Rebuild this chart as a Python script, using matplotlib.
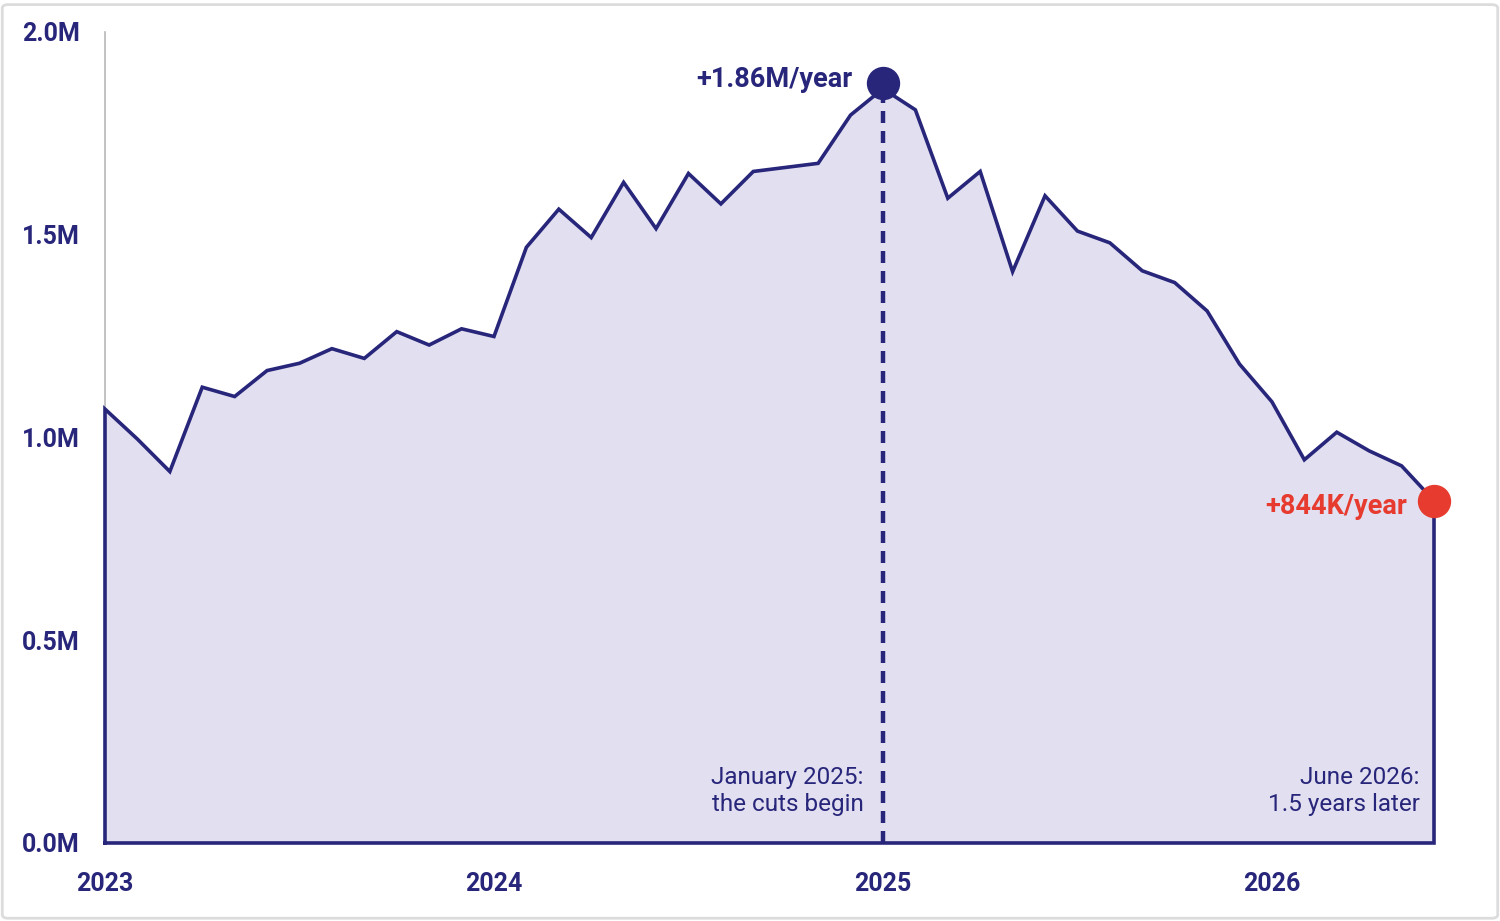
import matplotlib
matplotlib.use("Agg")
import matplotlib.pyplot as plt
from matplotlib.patches import FancyBboxPatch
import numpy as np

NAVY = "#28267a"
FILL = "#e1dff0"
RED = "#e63b2e"

# monthly values, Jan 2023 .. Jun 2026 (millions per year)
start_year = 2023
values = [1.070, 0.996, 0.916, 1.124, 1.101, 1.165, 1.183, 1.219, 1.195, 1.261, 1.228, 1.268,
          1.249, 1.469, 1.563, 1.493, 1.629, 1.515, 1.651, 1.576, 1.656, 1.666, 1.676, 1.795,
          1.860, 1.808, 1.590, 1.656, 1.409, 1.596, 1.509, 1.480, 1.411, 1.382, 1.312, 1.181,
          1.088, 0.945, 1.013, 0.967, 0.930, 0.844]
year_ticks = [2023, 2024, 2025, 2026]
y_ticks = [0.0, 0.5, 1.0, 1.5, 2.0]
y_labels = ["0.0M", "0.5M", "1.0M", "1.5M", "2.0M"]

peak_label = "+1.86M/year"
end_label = "+844K/year"
peak_note = "January 2025:\nthe cuts begin"
end_note = "June 2026:\n1.5 years later"

x = start_year + np.arange(len(values)) / 12
y = np.array(values)
i_peak = int(np.argmax(y))

fig = plt.figure(figsize=(15, 9.21), dpi=100)
ax = fig.add_axes([0.07, 0.0847, 0.886, 0.8806])

# area + closed outline
ax.fill_between(x, 0, y, color=FILL, lw=0, zorder=1)
ox = np.concatenate([[x[0]], x, [x[-1]], [x[0]]])
oy = np.concatenate([[0], y, [0], [0]])
ax.plot(ox, oy, color=NAVY, lw=2.6, solid_joinstyle="miter", zorder=3, clip_on=False)

# cut start marker
ax.plot([x[i_peak], x[i_peak]], [0, y[i_peak]], color=NAVY, lw=3.2,
        linestyle=(0, (2.7, 1.8)), zorder=2)
ax.plot(x[i_peak], y[i_peak] + 0.015, "o", color=NAVY, ms=23, zorder=5, clip_on=False)
ax.plot(x[-1], y[-1], "o", color=RED, ms=23, zorder=5, clip_on=False)

ax.annotate(peak_label, (x[i_peak], y[i_peak]), xytext=(-31, 9), textcoords="offset pixels",
            ha="right", va="center", color=NAVY, fontsize=19.5, fontweight="bold", family="Roboto")
ax.annotate(end_label, (x[-1], y[-1]), xytext=(-27, -6), textcoords="offset pixels",
            ha="right", va="center", color=RED, fontsize=19.5, fontweight="bold", family="Roboto")
ax.annotate(peak_note, (x[i_peak], 0.128), xytext=(-19, 0), textcoords="offset pixels",
            ha="right", va="center", color=NAVY, fontsize=17.5, family="Roboto", linespacing=1.2)
ax.annotate(end_note, (x[-1], 0.128), xytext=(-14, 0), textcoords="offset pixels",
            ha="right", va="center", color=NAVY, fontsize=17.5, family="Roboto", linespacing=1.2)

ax.set_xlim(x[0], x[-1])
ax.set_ylim(0, 2.0)
tick_font = dict(family="Roboto", fontweight="bold", fontsize=18, color=NAVY)
ax.set_xticks(year_ticks)
ax.set_xticklabels([str(t) for t in year_ticks], **tick_font)
ax.set_yticks(y_ticks)
ax.set_yticklabels(y_labels, **tick_font)
ax.tick_params(length=0)
ax.tick_params(axis="x", pad=21)
ax.tick_params(axis="y", pad=18)

for s in ["top", "right", "bottom"]:
    ax.spines[s].set_visible(False)
ax.spines["left"].set_color("#b8b8b8")
ax.spines["left"].set_linewidth(1.2)

# light frame around the whole picture
fig.patches.append(FancyBboxPatch((0.0015, 0.003), 0.997, 0.992,
                                  boxstyle="round,pad=0,rounding_size=0.004",
                                  transform=fig.transFigure, fill=False,
                                  ec="#dcdcdc", lw=2))

fig.savefig("out.png", dpi=100)
